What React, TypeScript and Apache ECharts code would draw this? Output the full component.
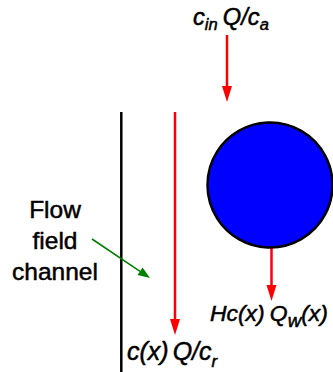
import React, { useEffect, useRef } from "react";
import * as echarts from "echarts";

// Diagram texts
const topLabel = ["c", "in", "Q/c", "a"];
const bottomLabel = ["c(x)", "Q/c", "r"];
const rightLabel = ["Hc(x)", "Q", "w", "(x)"];
const sideLabel = ["Flow", "field", "channel"];

const RED = "#ff0000";
const GREEN = "#008000";
const FONT = "'Liberation Sans', Arial, Helvetica, sans-serif";
const TW = 0.5;

function arrowDown(x: number, y1: number, tip: number, color: string) {
  const headLen = 16;
  const half = 5;
  return [
    {
      type: "line",
      shape: { x1: x, y1, x2: x, y2: tip - headLen + 1 },
      style: { stroke: color, lineWidth: 2.5 },
    },
    {
      type: "polygon",
      shape: { points: [[x - half, tip - headLen], [x + half, tip - headLen], [x, tip]] },
      style: { fill: color, stroke: null },
    },
  ];
}

function mathRich(main: number, sub: number, lh: number, gap: number) {
  const base = { fontStyle: "italic", fontFamily: FONT, fill: "#000", stroke: "#000", lineWidth: TW };
  return {
    m: { ...base, fontSize: main, lineHeight: lh },
    g: { ...base, fontSize: main, lineHeight: lh, padding: [0, 0, 0, gap] },
    s: { ...base, fontSize: sub, verticalAlign: "bottom" },
  };
}

export default function App() {
  const ref = useRef<HTMLDivElement>(null);
  useEffect(() => {
    if (!ref.current) return;
    const chart = echarts.init(ref.current, null, { renderer: "svg" });

    // green arrow geometry
    const gx1 = 92, gy1 = 239, gx2 = 150, gy2 = 278;
    const dx = gx2 - gx1, dy = gy2 - gy1;
    const len = Math.sqrt(dx * dx + dy * dy);
    const ux = dx / len, uy = dy / len;
    const px = -uy, py = ux;
    const hl = 12, hw = 4.5;
    const bx = gx2 - hl * ux, by = gy2 - hl * uy;

    const graphic: any[] = [
      {
        type: "rect",
        shape: { x: 0, y: 0, width: 333, height: 372 },
        style: { fill: "#fff" },
        silent: true,
      },
      // channel wall
      {
        type: "line",
        shape: { x1: 121.3, y1: 112, x2: 121.3, y2: 372 },
        style: { stroke: "#000", lineWidth: 2.5 },
      },
      ...arrowDown(227, 35, 102, RED),
      ...arrowDown(175, 112, 335, RED),
      ...arrowDown(271.5, 247, 301, RED),
      // particle
      {
        type: "circle",
        shape: { cx: 270, cy: 185, r: 62.5 },
        style: { fill: "#0000ff", stroke: "#000", lineWidth: 2.5 },
      },
      // green arrow
      {
        type: "line",
        shape: { x1: gx1, y1: gy1, x2: bx, y2: by },
        style: { stroke: GREEN, lineWidth: 1.6 },
      },
      {
        type: "polygon",
        shape: {
          points: [
            [bx + hw * px, by + hw * py],
            [bx - hw * px, by - hw * py],
            [gx2, gy2],
          ],
        },
        style: { fill: GREEN, stroke: null },
      },
      // labels
      {
        type: "text",
        x: 193,
        y: 2.5,
        scaleX: 1.03,
        style: {
          text: `{m|${topLabel[0]}}{s|${topLabel[1]}}{g|${topLabel[2]}}{s|${topLabel[3]}}`,
          rich: mathRich(23, 16, 30, 5),
          align: "left",
          verticalAlign: "top",
        },
      },
      {
        type: "text",
        x: 127,
        y: 333,
        style: {
          text: `{m|${bottomLabel[0]}}{g|${bottomLabel[1]}}{s|${bottomLabel[2]}}`,
          rich: mathRich(25, 17, 36.6, 4),
          align: "left",
          verticalAlign: "top",
        },
      },
      {
        type: "text",
        x: 210,
        y: 297.4,
        scaleX: 1.04,
        style: {
          text: `{m|${rightLabel[0]}}{g|${rightLabel[1]}}{s|${rightLabel[2]}}{m|${rightLabel[3]}}`,
          rich: mathRich(22, 18, 32, 5),
          align: "left",
          verticalAlign: "top",
        },
      },
      {
        type: "text",
        x: 55,
        y: 194,
        style: {
          text: sideLabel.join("\n"),
          fontSize: 24.5,
          lineHeight: 31,
          fontFamily: FONT,
          fill: "#000",
          stroke: "#000",
          lineWidth: TW,
          align: "center",
          verticalAlign: "top",
        },
      },
    ];

    chart.setOption({ animation: false, backgroundColor: "#fff", graphic });
    return () => chart.dispose();
  }, []);
  return (
    <div
      ref={ref}
      style={{ position: "fixed", left: 0, top: 0, width: 333, height: 372 }}
    />
  );
}
